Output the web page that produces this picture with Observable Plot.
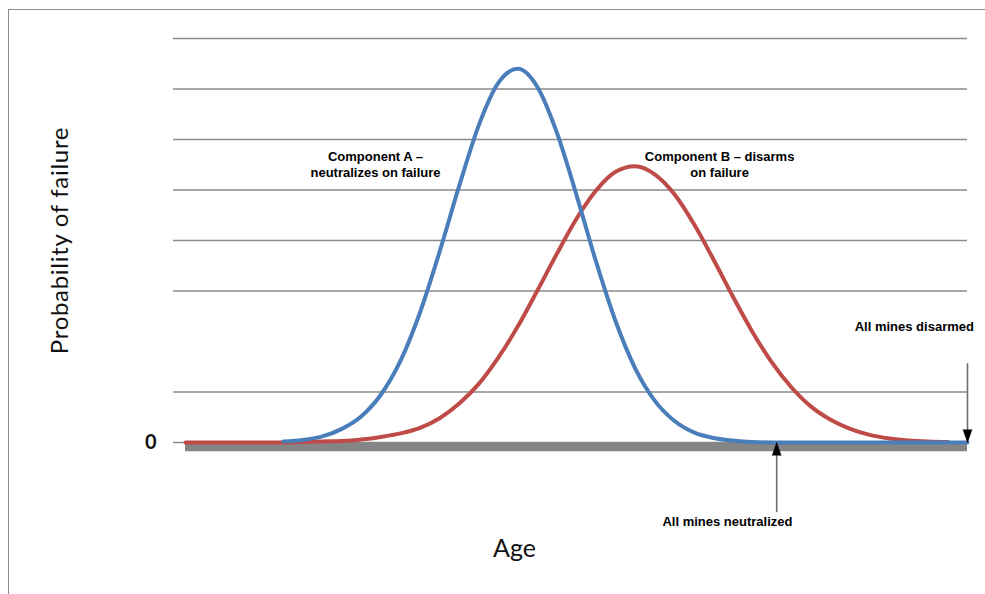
<!DOCTYPE html>
<html><head><meta charset="utf-8">
<script src="https://cdn.jsdelivr.net/npm/d3@7"></script>
<script src="https://cdn.jsdelivr.net/npm/@observablehq/plot@0.6"></script>
<style>
html,body{margin:0;padding:0;background:#fff;overflow:hidden;}
#wrap{position:relative;width:985px;height:594px;overflow:hidden;}
#frame{position:absolute;left:8px;top:9px;width:1000px;height:620px;border-top:1.5px solid #8c8c8c;border-left:1.5px solid #8c8c8c;pointer-events:none;}
#chart{position:absolute;left:0;top:0;}
</style></head><body><div id="wrap"><div id="chart"></div><div id="frame"></div></div>
<script>
// Age (arbitrary units, 0 = start of curves, 100 = end of axis)
const ages = [0,2.5,5,7.5,10,12.5,15,17.5,20,22.5,25,27.5,30,32.5,35,37.5,40,42.5,45,47.5,50,52.5,55,57.5,60,62.5,65,67.5,70,72.5,75,77.5,80,82.5,85,87.5,90,92.5,95,97.5,100];
// Component A – neutralizes on failure (blue)
const compA = [null,null,null,null,null,0.02,0.05,0.12,0.27,0.52,0.95,1.62,2.58,3.78,5.08,6.28,7.12,7.40,7.04,6.13,4.90,3.58,2.40,1.47,0.83,0.43,0.20,0.09,0.04,0.01,0,0,0,0,0,0,0,0,0,0,0];
// Component B – disarms on failure (red)
const compB = [0,0,0,0,0,0,0.01,0.02,0.03,0.06,0.11,0.18,0.29,0.48,0.77,1.16,1.68,2.30,3.01,3.74,4.43,4.99,5.36,5.47,5.31,4.92,4.33,3.63,2.89,2.19,1.58,1.09,0.71,0.45,0.27,0.15,0.08,0.04,0.02,0.01,null];
// Horizontal gridline values (y axis), only 0 is labelled
const gridTicks = [0,1,3,4,5,6,7,8];
const tickLabels = [0];
// Annotations
const noteTexts = ["Component A –\nneutralizes on failure", "Component B – disarms\non failure", "All mines disarmed", "All mines neutralized"];
const noteAges = [24.3, 68.3, 93.2, 69.3];
const noteValues = [5.52, 5.52, 2.30, -1.56];
const arrowAges = [100, 75.6];
const arrowFrom = [1.56, -1.39];
const arrowTo = [0, 0];
const arrowDirs = ["down", "up"];
const yTitle = "Probability of failure";
const xTitle = "Age";

const blue = "#4a7ebb", red = "#be4b48";
const seriesA = ages.map((a, i) => ({age: a, p: compA[i]}));
const seriesB = ages.map((a, i) => ({age: a, p: compB[i]}));
const notes = noteTexts.map((t, i) => ({text: t, age: noteAges[i], v: noteValues[i]}));
const arrows = arrowAges.map((a, i) => ({age: a, from: arrowFrom[i], to: arrowTo[i], dir: arrowDirs[i]}));

const chart = Plot.plot({
  width: 985, height: 594,
  marginLeft: 173, marginRight: 18, marginTop: 38, marginBottom: 152,
  x: {domain: [0, 100], insetLeft: 12, axis: null},
  y: {domain: [0, 8]},
  style: {fontFamily: "'Liberation Sans', Arial, sans-serif", background: "transparent", overflow: "visible"},
  marks: [
    Plot.ruleY(gridTicks, {stroke: "#8a8a8a", strokeWidth: 1.3}),
    Plot.ruleY([0], {x1: ages[0], x2: ages[ages.length - 1], stroke: "#858585", strokeWidth: 8.5, dy: 4.5}),
    Plot.axisY(tickLabels, {tickSize: 0, tickPadding: 17, fontSize: 20, fontFamily: "Lato", fontWeight: "bold", fill: "#111", label: null, tickFormat: d => String(d)}),
    Plot.lineY(seriesB, {x: "age", y: "p", stroke: red, strokeWidth: 4, curve: "monotone-x"}),
    Plot.lineY(seriesA, {x: "age", y: "p", stroke: blue, strokeWidth: 4, curve: "monotone-x"}),
    Plot.ruleX(arrows, {x: "age", y1: "from", y2: "to", stroke: "#6e6e6e", strokeWidth: 1.6}),
    Plot.vector(arrows, {x: "age", y: "to", rotate: d => d.dir === "down" ? 180 : 0, length: 13, anchor: "end", shape: "spike", r: 4.5, fill: "black", fillOpacity: 1, stroke: "black", strokeWidth: 0.5}),
    Plot.text(notes, {x: "age", y: "v", text: "text", fontSize: 13, fontWeight: "bold", lineHeight: 1.2, fill: "#000", lineAnchor: "middle"}),
    Plot.text([yTitle], {text: d => d, frameAnchor: "left", textAnchor: "middle", rotate: -90, dx: -113, fontSize: 24, fontFamily: "Lato", fill: "#111"}),
    Plot.text([xTitle], {text: d => d, frameAnchor: "bottom", textAnchor: "middle", dx: -56, dy: 114, fontSize: 25, fontFamily: "Lato", fill: "#111"})
  ]
});
d3.select(chart).selectAll("text").filter(function() { return this.textContent === yTitle; }).style("letter-spacing", "0.7px");
document.getElementById("chart").appendChild(chart);
</script>
</body></html>
